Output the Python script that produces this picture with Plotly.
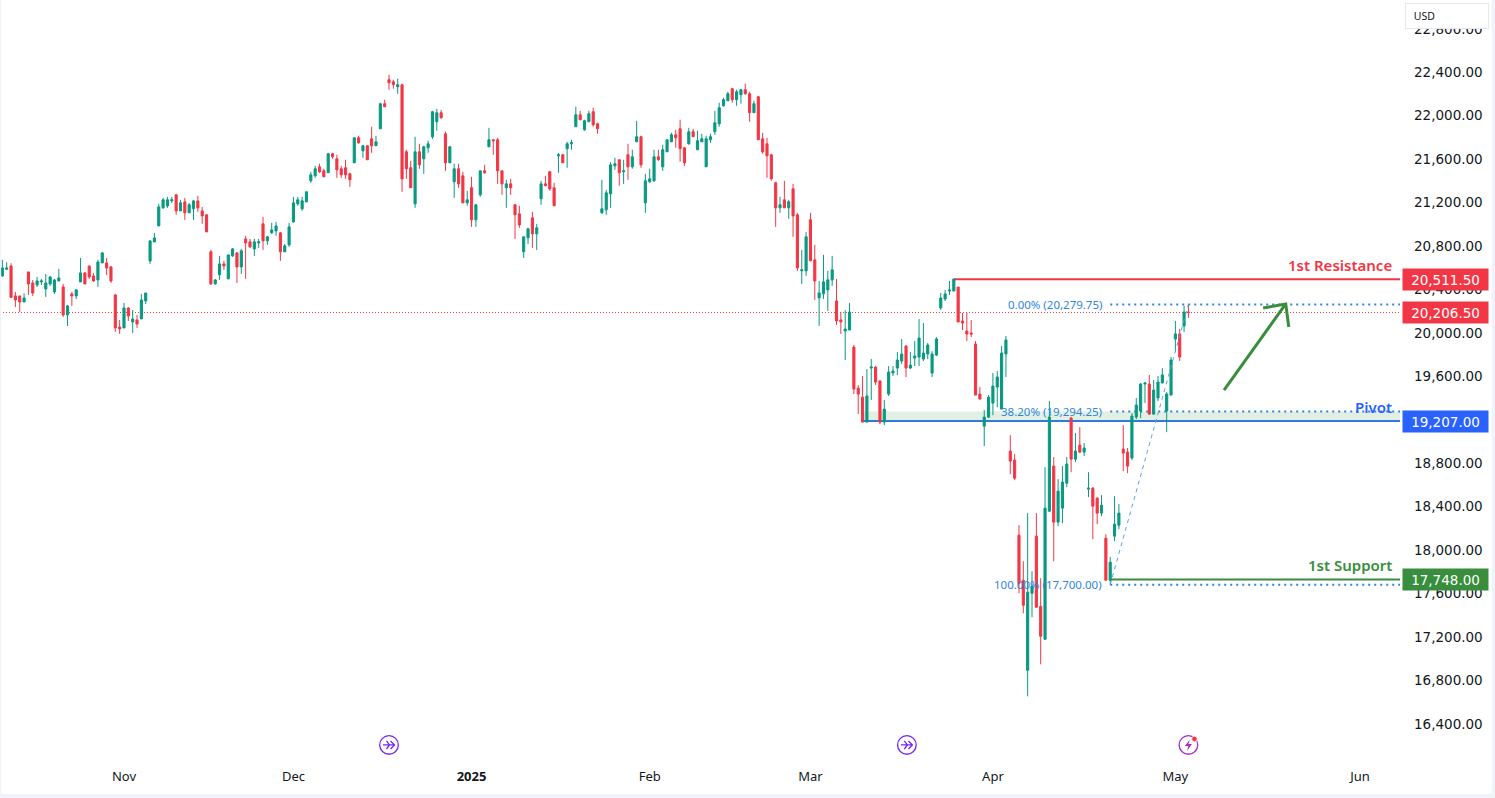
"""
plot.py

NAS100 style candle chart with pivot, support and resistance levels
"""
import plotly.graph_objects as go

OPENS = [
    20543, 20604, 20635, 20359, 20359, 20303, 20580, 20479, 20460, 20488,
    20423, 20469, 20396, 20497, 20442, 20184, 20377, 20359, 20488, 20571,
    20635, 20543, 20506, 20663, 20663, 20626, 20368, 20073, 20064, 20248,
    20119, 20138, 20147, 20313, 20681, 20856, 21004, 21170, 21188, 21235,
    21290, 21142, 21225, 21124, 21161, 21234, 21142, 21106, 20765, 20470,
    20553, 20654, 20516, 20728, 20755, 20626, 20884, 20857, 20792, 20847,
    21023, 20866, 20940, 20958, 20940, 20765, 20829, 21041, 21207, 21161,
    21225, 21419, 21465, 21548, 21511, 21493, 21668, 21622, 21530, 21539,
    21484, 21585, 21815, 21695, 21742, 21806, 21742, 21898, 22129, 22350,
    22331, 22285, 22304, 21686, 21539, 21207, 21686, 21622, 21723, 21825,
    21963, 22046, 21852, 21585, 21410, 21530, 21465, 21216, 21355, 21060,
    21290, 21511, 21732, 21797, 21797, 21511, 21355, 21391, 21198, 21115,
    20765, 20894, 21078, 20931, 21253, 21391, 21502, 21355, 21649, 21659,
    21714, 21760, 21917, 22027, 21889, 21963, 22055, 21944, 21124, 21152,
    21299, 21557, 21613, 21502, 21659, 21548, 21778, 21825, 21216, 21410,
    21419, 21640, 21548, 21686, 21778, 21843, 21898, 21723, 21760, 21871,
    21705, 21778, 21548, 21797, 21871, 21944, 22110, 22156, 22267, 22166,
    22212, 22258, 22221, 22046, 22193, 21806, 21760, 21659, 21401, 21170,
    21244, 21170, 21345, 21106, 20590, 20590, 21060, 20691, 20341, 20378,
    20414, 20507, 20313, 20138, 20036, 20045, 19888, 19510, 19427, 19197,
    19695, 19704, 19575, 19197, 19455, 19649, 19695, 19759, 19897, 19695,
    19787, 19796, 19778, 19824, 19649, 19814, 20248, 20331, 20404, 20404,
    20441, 20128, 20036, 20017, 19916, 19455, 19160, 19243, 19372, 19520,
    19317, 19824, 18930, 18847, 18156, 17741, 16912, 17621, 18147, 17501,
    17197, 18377, 18792, 18276, 18405, 18635, 19234, 18856, 18985, 18921,
    18580, 18589, 18497, 18359, 18128, 17741, 18147, 18248, 18949, 18921,
    18866, 19244, 19299, 19548, 19548, 19271, 19419, 19557, 19299, 19446,
    19962, 20009, 20082, 20211,
]
HIGHS = [
    20691, 20669, 20660, 20396, 20359, 20383, 20580, 20506, 20534, 20515,
    20561, 20543, 20515, 20608, 20469, 20276, 20396, 20423, 20709, 20580,
    20635, 20571, 20691, 20764, 20709, 20635, 20377, 20138, 20294, 20257,
    20230, 20184, 20377, 20386, 20866, 20939, 21207, 21262, 21271, 21271,
    21299, 21244, 21262, 21216, 21244, 21281, 21179, 21106, 20783, 20516,
    20728, 20682, 20737, 20801, 20764, 20792, 20912, 20884, 20884, 20884,
    21087, 20912, 21032, 21041, 20949, 20838, 21032, 21271, 21271, 21272,
    21318, 21502, 21557, 21576, 21530, 21677, 21677, 21659, 21557, 21613,
    21493, 21815, 21834, 21751, 21742, 21917, 21834, 22138, 22166, 22396,
    22350, 22359, 22313, 21705, 21603, 21825, 21760, 21742, 21788, 22064,
    22083, 22073, 21871, 21742, 21576, 21576, 21502, 21327, 21456, 21207,
    21511, 21566, 21907, 21797, 21815, 21511, 21428, 21437, 21207, 21189,
    20903, 20986, 21133, 21023, 21419, 21465, 21511, 21401, 21677, 21668,
    21778, 21797, 22101, 22064, 21981, 22064, 22092, 21954, 21428, 21336,
    21591, 21631, 21613, 21613, 21760, 21705, 21972, 21834, 21484, 21530,
    21705, 21705, 21751, 21797, 21861, 21889, 21981, 21732, 21907, 21898,
    21880, 21852, 21834, 21852, 22064, 22138, 22184, 22239, 22276, 22258,
    22267, 22313, 22239, 22156, 22202, 21861, 21815, 21668, 21410, 21272,
    21419, 21244, 21391, 21124, 20783, 20949, 21124, 20829, 20497, 20737,
    20590, 20728, 20516, 20212, 20229, 20294, 19907, 19538, 19621, 19685,
    19778, 19713, 19584, 19400, 19713, 19713, 19842, 19962, 19907, 19842,
    19943, 20146, 20109, 19925, 19851, 19980, 20386, 20414, 20496, 20515,
    20441, 20202, 20202, 20137, 19943, 19519, 19308, 19446, 19649, 19667,
    19897, 19990, 19077, 18902, 18248, 17916, 18359, 17824, 18359, 17760,
    18783, 19391, 18875, 18672, 18792, 18875, 19243, 19096, 19151, 19004,
    18736, 18598, 18506, 18524, 18165, 17956, 18515, 18442, 19170, 18958,
    19280, 19419, 19557, 19566, 19631, 19585, 19621, 19695, 19474, 19797,
    20128, 20055, 20267, 20285,
]
LOWS = [
    20534, 20598, 20340, 20257, 20211, 20303, 20368, 20359, 20442, 20460,
    20350, 20451, 20377, 20497, 20165, 20082, 20267, 20331, 20488, 20469,
    20515, 20488, 20442, 20663, 20552, 20479, 20027, 20009, 20064, 20128,
    20018, 20064, 20147, 20285, 20654, 20856, 21004, 21161, 21170, 21216,
    21106, 21142, 21059, 21124, 21059, 21133, 21023, 20949, 20460, 20460,
    20506, 20599, 20516, 20718, 20479, 20562, 20516, 20801, 20728, 20801,
    20783, 20829, 20930, 20912, 20682, 20765, 20811, 21032, 21188, 21143,
    21225, 21401, 21447, 21493, 21456, 21493, 21622, 21447, 21447, 21437,
    21364, 21585, 21760, 21631, 21613, 21677, 21742, 21898, 22101, 22258,
    22267, 22221, 21318, 21437, 21355, 21170, 21530, 21484, 21677, 21806,
    21880, 21990, 21511, 21585, 21262, 21355, 21216, 21189, 20995, 20995,
    21272, 21484, 21732, 21659, 21391, 21290, 21170, 21290, 20884, 20986,
    20709, 20838, 20801, 20783, 21198, 21373, 21327, 21189, 21493, 21585,
    21539, 21705, 21917, 21981, 21880, 21963, 21917, 21852, 21115, 21106,
    21170, 21520, 21373, 21391, 21428, 21530, 21778, 21539, 21124, 21401,
    21410, 21603, 21511, 21686, 21778, 21723, 21594, 21557, 21751, 21825,
    21705, 21778, 21548, 21769, 21843, 21917, 22101, 22156, 22138, 22110,
    22129, 22212, 21963, 22046, 21797, 21668, 21447, 21419, 20995, 21124,
    21170, 21069, 20903, 20590, 20470, 20544, 20682, 20322, 20083, 20332,
    20221, 20451, 20092, 20009, 19768, 20045, 19455, 19271, 19197, 19197,
    19400, 19538, 19179, 19169, 19437, 19621, 19630, 19732, 19612, 19685,
    19713, 19713, 19759, 19778, 19612, 19805, 20229, 20312, 20367, 20404,
    20119, 20045, 19943, 19980, 19446, 19409, 18976, 19234, 19261, 19335,
    19317, 19612, 18718, 18663, 17621, 17437, 16672, 17400, 17492, 16967,
    17197, 18368, 17916, 18239, 18266, 18598, 18736, 18829, 18912, 18884,
    18506, 18119, 18257, 18331, 17741, 17700, 18101, 18211, 18746, 18727,
    18847, 19225, 19234, 19373, 19262, 19262, 19391, 19557, 19105, 19446,
    19843, 19760, 20027, 20156,
]
CLOSES = [
    20617, 20617, 20346, 20322, 20303, 20340, 20469, 20386, 20497, 20497,
    20479, 20534, 20506, 20525, 20184, 20267, 20359, 20414, 20571, 20469,
    20534, 20497, 20672, 20755, 20617, 20497, 20064, 20055, 20248, 20174,
    20147, 20101, 20322, 20386, 20866, 20893, 21179, 21244, 21244, 21244,
    21142, 21216, 21124, 21198, 21234, 21170, 21096, 20949, 20470, 20506,
    20654, 20635, 20737, 20792, 20626, 20774, 20847, 20811, 20857, 20857,
    20866, 20903, 20967, 21004, 20765, 20820, 20995, 21216, 21244, 21235,
    21318, 21474, 21530, 21502, 21456, 21668, 21640, 21520, 21474, 21474,
    21428, 21815, 21769, 21742, 21613, 21742, 21778, 22129, 22101, 22322,
    22304, 22304, 21437, 21530, 21355, 21686, 21566, 21732, 21760, 22055,
    22046, 22000, 21585, 21732, 21530, 21391, 21216, 21244, 21060, 21198,
    21511, 21493, 21797, 21788, 21511, 21391, 21391, 21355, 21106, 21013,
    20903, 20977, 20931, 20986, 21391, 21373, 21345, 21189, 21659, 21585,
    21760, 21769, 22027, 21981, 21972, 22037, 21935, 21898, 21161, 21308,
    21566, 21576, 21493, 21511, 21548, 21640, 21825, 21566, 21419, 21437,
    21640, 21613, 21705, 21797, 21843, 21815, 21714, 21585, 21871, 21825,
    21788, 21806, 21806, 21825, 21954, 22092, 22166, 22221, 22166, 22239,
    22258, 22221, 22046, 22129, 21797, 21686, 21649, 21437, 21170, 21198,
    21170, 21226, 21096, 20617, 20599, 20903, 20682, 20497, 20387, 20488,
    20507, 20599, 20129, 20120, 20054, 20211, 19501, 19455, 19197, 19437,
    19704, 19566, 19197, 19317, 19658, 19667, 19768, 19824, 19695, 19722,
    19805, 19971, 19833, 19907, 19824, 19962, 20340, 20377, 20414, 20515,
    20119, 20109, 20008, 20008, 19446, 19409, 19243, 19427, 19529, 19612,
    19833, 19953, 18838, 18681, 17713, 17511, 17631, 17686, 17492, 17225,
    18405, 19243, 18276, 18561, 18644, 18810, 18856, 18930, 18921, 18958,
    18589, 18423, 18359, 18432, 17741, 17907, 18257, 18359, 18912, 18792,
    19253, 19354, 19548, 19557, 19271, 19492, 19566, 19631, 19456, 19769,
    20009, 19797, 20211, 20206.5,
]

MONTH_BARS = [28, 67, 108, 149, 186, 228, 270, 312.5]
MONTH_LABELS = ["Nov", "Dec", "<b>2025</b>", "Feb", "Mar", "Apr", "May", "Jun"]
PRICE_TICKS = [16400 + 400 * i for i in range(17)]

LAST_PRICE = 20206.5
RESISTANCE = 20511.5
PIVOT = 19207
SUPPORT = 17748
RESISTANCE_START = 219
PIVOT_START = 198
SUPPORT_START = 255

FIB_START = 255
FIB_END = 273
FIB_LEVELS = [20279.75, 19294.25, 17700]
FIB_LABELS = ["0.00% (20,279.75)", "38.20% (19,294.25)", "100.00% (17,700.00)"]

ARROW_BARS = [281.2, 295.4, None, 290.2, 295.4, 296.1]
ARROW_PRICES = [19492, 20285, None, 20248, 20285, 20073]

ICON_BARS = [89, 208.2, 273]

RED = "#f23645"
TEAL = "#089981"
BLUE = "#2962ff"
BLUE_LINE = "#3179dd"
GREEN = "#388e3c"
FIB_BLUE = "#2f85e0"
FIB_DIAGONAL = "#5b9fe6"
INK = "#131722"
EDGE = "#f0f3fa"
X_RANGE = [-0.54, 321.7]
Y_RANGE = [16012, 23084]
PLOT_BOTTOM = 30
PLOT_RIGHT = 95

JUMP_ICON = (
    "data:image/svg+xml;utf8,<svg xmlns='http://www.w3.org/2000/svg' width='42' height='42' viewBox='0 0 42 42'>"
    "<circle cx='21' cy='21' r='18.5' fill='white' stroke='%237327f5' stroke-width='2.6'/>"
    "<path d='M9 21H32M24 13L32 21L24 29M16 13L22 21L16 29' fill='none' stroke='%237327f5' stroke-width='2.6'/></svg>"
)
BOLT_ICON = (
    "data:image/svg+xml;utf8,<svg xmlns='http://www.w3.org/2000/svg' width='42' height='42' viewBox='0 0 42 42'>"
    "<circle cx='21' cy='21' r='18.5' fill='white' stroke='%23a62dc8' stroke-width='2.6'/>"
    "<path d='M24 10L14 23H21L18 33L28 19H21Z' fill='%23a62dc8'/>"
    "<circle cx='33' cy='9' r='5.5' fill='%23f23645' stroke='white' stroke-width='1.5'/></svg>"
)


def level_shape(start, price, color, width=2, dash="solid"):
    return dict(
        type="line", xref="x", yref="y", layer="below",
        x0=start, x1=X_RANGE[1], y0=price, y1=price,
        line=dict(color=color, width=width, dash=dash),
    )


def price_box(price, color):
    return dict(
        xref="paper", yref="y", x=1, y=price, xanchor="left", xshift=2,
        text=f"{price:,.2f}", showarrow=False, width=83, height=19,
        bgcolor=color, font=dict(family="DejaVu Sans", size=13.5, color="white"),
    )


def level_name(text, price, color):
    return dict(
        xref="x", yref="y", x=320.3, y=price, xanchor="right", yanchor="bottom", yshift=2,
        text=text, showarrow=False,
        font=dict(family="Noto Sans", size=15, color=color, weight=600),
    )


fig = go.Figure()
fig.add_trace(go.Candlestick(
    x=list(range(len(OPENS))), open=OPENS, high=HIGHS, low=LOWS, close=CLOSES,
    increasing=dict(line=dict(color=TEAL, width=1), fillcolor=TEAL),
    decreasing=dict(line=dict(color=RED, width=1), fillcolor=RED),
    whiskerwidth=0, showlegend=False, hoverinfo="skip",
))
fig.add_trace(go.Scatter(
    x=[FIB_START, FIB_END], y=[FIB_LEVELS[2], FIB_LEVELS[0]], mode="lines",
    line=dict(color=FIB_DIAGONAL, width=1, dash="4px,4px"), showlegend=False, hoverinfo="skip",
))
fig.add_trace(go.Scatter(
    x=ARROW_BARS, y=ARROW_PRICES, mode="lines",
    line=dict(color=GREEN, width=3), showlegend=False, hoverinfo="skip",
))

shapes = [
    dict(type="rect", xref="x", yref="y", layer="below", x0=PIVOT_START, x1=X_RANGE[1],
         y0=PIVOT, y1=FIB_LEVELS[1], fillcolor="#e1f0e2", line_width=0),
    level_shape(X_RANGE[0], LAST_PRICE, RED, 1, "1px,2px"),
    level_shape(RESISTANCE_START, RESISTANCE, RED),
    level_shape(PIVOT_START, PIVOT, BLUE_LINE),
    level_shape(SUPPORT_START, SUPPORT, GREEN),
]
for level in FIB_LEVELS:
    shapes.append(level_shape(FIB_START, level, FIB_BLUE, 2, "2px,4px"))
# page edge strips, same grey as the app frame around the chart
for x0, x1, y0, y1 in [(1.0654, 1.068, -0.04, 1), (0, 0.0008, -0.04, 1), (-0.01, 1.068, -0.04, -0.0339)]:
    shapes.append(dict(type="rect", xref="paper", yref="paper", x0=x0, x1=x1, y0=y0, y1=y1,
                       fillcolor=EDGE, line_width=0))

annotations = [
    price_box(RESISTANCE, RED),
    price_box(LAST_PRICE, RED),
    price_box(PIVOT, BLUE),
    price_box(SUPPORT, GREEN),
    level_name("1st Resistance", RESISTANCE, RED),
    level_name("Pivot", PIVOT, BLUE),
    level_name("1st Support", SUPPORT, GREEN),
    dict(xref="paper", yref="paper", x=1, y=1, xanchor="left", yanchor="top", xshift=5, yshift=-3,
         text="&nbsp;USD", showarrow=False, width=72, height=14, align="left", bgcolor="white",
         bordercolor="#e6e8ee", borderwidth=1, borderpad=5,
         font=dict(family="Noto Sans", size=10.5, color=INK)),
]
for level, label in zip(FIB_LEVELS, FIB_LABELS):
    annotations.append(dict(
        xref="x", yref="y", x=FIB_START, y=level, xanchor="right", xshift=-6,
        text=label, showarrow=False, font=dict(family="Noto Sans", size=11.5, color=FIB_BLUE),
    ))

images = [
    dict(source=BOLT_ICON if bar == ICON_BARS[-1] else JUMP_ICON, xref="x", yref="paper",
         x=bar, y=0.03, sizex=4.9, sizey=0.0275, xanchor="center", yanchor="middle", layer="above")
    for bar in ICON_BARS
]

fig.update_layout(
    width=1495, height=798, margin=dict(l=0, r=PLOT_RIGHT, t=0, b=PLOT_BOTTOM),
    paper_bgcolor="white", plot_bgcolor="white", showlegend=False, dragmode=False,
    shapes=shapes, annotations=annotations, images=images,
)
fig.update_xaxes(
    range=X_RANGE, rangeslider_visible=False, showgrid=False, zeroline=False, showline=False,
    tickmode="array", tickvals=MONTH_BARS, ticktext=MONTH_LABELS, ticks="",
    tickfont=dict(family="Noto Sans", size=13, color=INK),
    ticklabelstandoff=-1,
)
fig.update_yaxes(
    range=Y_RANGE, side="right", showgrid=False, zeroline=False, showline=False,
    tickmode="array", tickvals=PRICE_TICKS, tickformat=",.2f", ticks="",
    tickfont=dict(family="DejaVu Sans", size=13.5, color=INK),
    ticklabelstandoff=13, ticklabelshift=-2,
)

fig.write_html("out.html", config=dict(displayModeBar=False),
               post_script="document.body.style.margin='0';")
